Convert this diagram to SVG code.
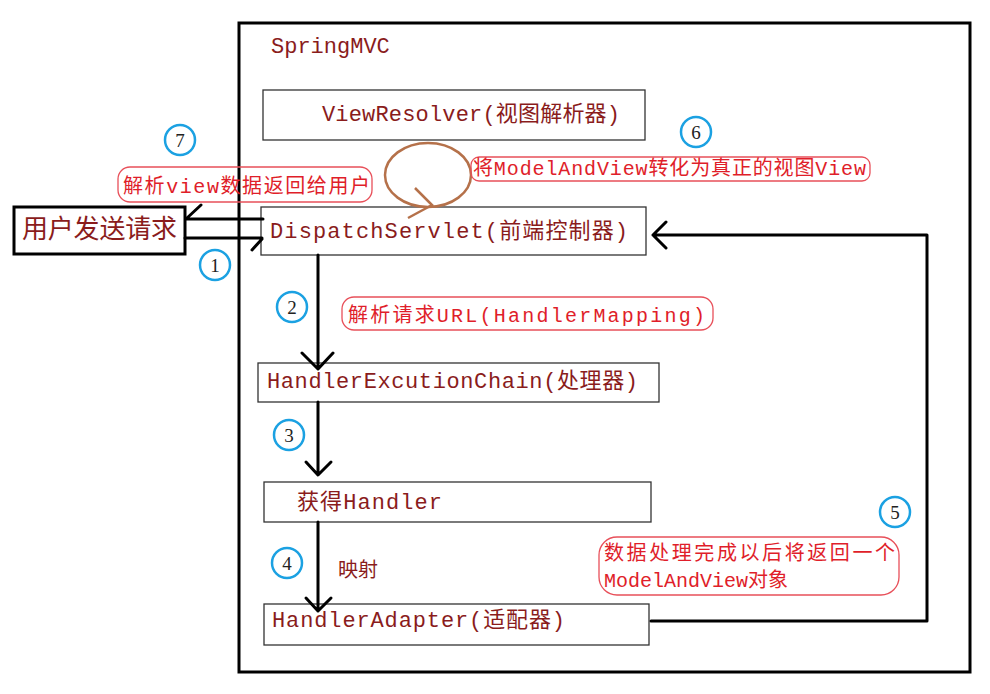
<svg xmlns="http://www.w3.org/2000/svg" width="990" height="694" viewBox="0 0 990 694">
<style>
.box{fill:#fff;stroke:#333;stroke-width:1.3}
.t{font-family:"Liberation Mono","Noto Sans CJK SC",monospace;font-size:22px;fill:#8a1c1c}
.r{font-family:"Liberation Mono","Noto Sans CJK SC",monospace;font-size:20px;fill:#e01e2a}
.bub{fill:none;stroke:#e8505a;stroke-width:1.3}
.ln{fill:none;stroke:#000;stroke-width:3;stroke-linecap:round;stroke-linejoin:round}
.num circle{fill:none;stroke:#1ba1e2;stroke-width:2.5}
.num text{font-family:"Liberation Serif",serif;font-size:19px;fill:#222;text-anchor:middle}
</style>
<rect width="990" height="694" fill="#fff"/>
<rect x="239" y="23" width="731" height="649" fill="none" stroke="#000" stroke-width="3"/>
<text class="t" x="271" y="53">SpringMVC</text>

<g id="viewresolver"><rect class="box" x="263" y="90" width="382" height="50"/><text class="t" x="322" y="121" textLength="298">ViewResolver(视图解析器)</text></g>
<g id="dispatcher"><rect class="box" x="261" y="207" width="385" height="48"/><text class="t" x="270" y="238" textLength="358">DispatchServlet(前端控制器)</text></g>
<g id="chain"><rect class="box" x="258" y="363" width="401" height="39"/><text class="t" x="267" y="388" textLength="371">HandlerExcutionChain(处理器)</text></g>
<g id="handler"><rect class="box" x="264" y="482" width="387" height="40"/><text class="t" x="297" y="509" textLength="145">获得Handler</text></g>
<g id="adapter"><rect class="box" x="264" y="604" width="385" height="41"/><text class="t" x="272" y="627" textLength="293">HandlerAdapter(适配器)</text></g>
<g id="user"><rect x="14" y="207" width="171" height="47" fill="#fff" stroke="#000" stroke-width="3"/><text x="22" y="238" font-family="'Noto Sans CJK SC',sans-serif" font-size="26" fill="#8a1c1c" textLength="155">用户发送请求</text></g>

<g id="connectors">
<path class="ln" d="M263 219H186M187 218L201 205"/>
<path class="ln" d="M185 238H262M262 239L252 250"/>
<path class="ln" d="M318 255V368M302 353L318 369L333 353"/>
<path class="ln" d="M318 402V474M306 462L318 475L331 462"/>
<path class="ln" d="M318 522V611M306 598L318 611L331 598"/>
<path class="ln" d="M651 621H927V235H653M666 222L653 235L666 248"/>
<ellipse cx="428" cy="175" rx="43" ry="32" fill="none" stroke="#b5714a" stroke-width="2.5"/>
<path d="M415 188L432 205L408 218" fill="none" stroke="#b5714a" stroke-width="2.5"/>
</g>

<g id="labels">
<rect class="bub" x="118" y="167" width="254" height="35" rx="12"/>
<text class="r" x="123" y="193" textLength="247">解析view数据返回给用户</text>
<rect class="bub" x="471" y="157" width="399" height="24" rx="8"/>
<text class="r" x="473" y="175" textLength="393">将ModelAndView转化为真正的视图View</text>
<rect class="bub" x="342" y="297" width="371" height="33" rx="12"/>
<text class="r" x="348" y="322" font-size="22" textLength="357">解析请求URL(HandlerMapping)</text>
<rect class="bub" x="599" y="537" width="300" height="58" rx="18"/>
<text class="r" x="604" y="560" textLength="291">数据处理完成以后将返回一个</text>
<text class="r" x="604" y="587" textLength="184">ModelAndView对象</text>
<text x="338" y="577" font-family="'Noto Sans CJK SC',sans-serif" font-size="20" fill="#8a1c1c">映射</text>
</g>

<g class="num">
<g id="n1"><circle cx="215" cy="265" r="15"/><text x="215" y="272">1</text></g>
<g id="n2"><circle cx="292" cy="307" r="15"/><text x="292" y="314">2</text></g>
<g id="n3"><circle cx="289" cy="435" r="15"/><text x="289" y="442">3</text></g>
<g id="n4"><circle cx="287" cy="563" r="15"/><text x="287" y="570">4</text></g>
<g id="n5"><circle cx="895" cy="512" r="15"/><text x="895" y="519">5</text></g>
<g id="n6"><circle cx="696" cy="132" r="15"/><text x="696" y="139">6</text></g>
<g id="n7"><circle cx="180" cy="140" r="15"/><text x="180" y="147">7</text></g>
</g>
</svg>
